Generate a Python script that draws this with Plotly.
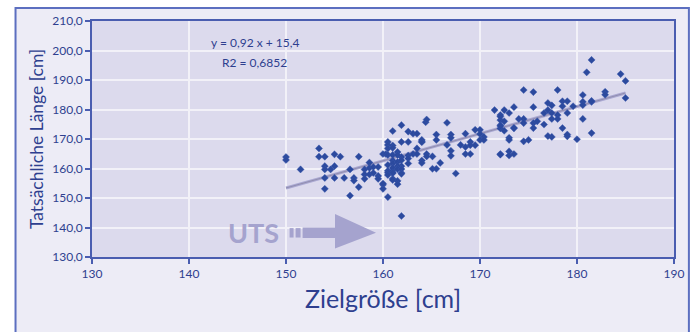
import plotly.graph_objects as go

# Zielgröße (target height) [cm]
ziel = [150.0, 150.0, 151.5, 153.4, 153.4, 154.0, 155.0, 155.6, 157.5, 154.0,
        154.0, 154.6, 155.0, 154.0, 155.0, 156.0, 157.0, 157.0, 154.0, 156.6,
        157.5, 156.6, 158.6, 158.1, 158.6, 159.0, 159.5, 158.1, 158.6, 159.0,
        158.1, 159.5, 159.5, 160.0, 160.0, 160.5, 160.5, 161.0, 161.0, 161.0,
        161.5, 160.0, 160.3, 160.5, 160.5, 160.5, 161.0, 161.0, 161.0, 161.9,
        162.6, 163.1, 163.5, 161.9, 162.6, 161.0, 161.0, 161.5, 161.9, 161.9,
        162.6, 162.6, 163.1, 163.5, 163.5, 161.9, 162.6, 161.5, 161.9, 164.0,
        164.0, 164.4, 161.9, 160.5, 161.0, 161.5, 161.5, 160.5, 161.0, 160.5,
        161.0, 160.5, 161.5, 161.9, 161.9, 161.0, 161.5, 160.0, 164.5, 166.6,
        164.0, 164.0, 164.5, 164.5, 165.1, 164.0, 165.1, 165.5, 165.5, 165.5,
        165.9, 167.0, 167.0, 166.6, 167.0, 167.0, 167.5, 168.0, 168.5, 168.5,
        168.5, 169.0, 169.0, 169.0, 169.5, 169.5, 170.0, 170.0, 170.4, 170.0,
        170.4, 171.5, 172.1, 172.1, 172.1, 172.1, 172.5, 172.5, 173.0, 172.5,
        172.1, 173.0, 173.0, 173.5, 173.5, 173.5, 173.0, 174.5, 175.5, 178.0,
        181.0, 181.5, 172.1, 172.1, 174.0, 174.5, 174.5, 173.5, 175.5, 175.5,
        175.5, 175.9, 176.6, 176.6, 177.0, 177.4, 177.0, 177.4, 177.4, 178.0,
        178.0, 178.5, 179.0, 178.5, 179.0, 179.6, 178.5, 179.0, 180.0, 177.4,
        180.6, 180.6, 180.6, 181.5, 180.6, 181.5, 173.0, 174.5, 175.0, 172.1,
        184.5, 185.0, 185.0, 182.9, 182.9, 181.5, 179.0, 177.0]

# Tatsächliche Länge (actual height) [cm]
laenge = [163.9, 162.9, 159.7, 166.8, 164.0, 164.0, 164.8, 164.0, 164.0, 160.8,
          159.7, 159.7, 160.8, 156.8, 156.8, 156.8, 156.8, 155.9, 153.1, 150.8,
          153.7, 159.7, 162.0, 159.7, 160.2, 160.5, 160.5, 158.0, 158.0, 158.5,
          156.5, 157.5, 156.5, 154.5, 153.1, 150.3, 159.2, 159.2, 158.4, 156.5,
          155.8, 164.9, 164.9, 169.0, 168.0, 166.8, 167.8, 167.0, 172.7, 174.7,
          172.5, 171.8, 171.8, 169.0, 169.0, 162.7, 161.7, 162.2, 163.9, 162.8,
          164.4, 163.4, 164.9, 166.8, 164.9, 160.8, 161.7, 160.8, 158.5, 169.2,
          162.7, 175.7, 143.9, 164.6, 164.6, 165.6, 164.6, 161.2, 160.2, 158.6,
          158.6, 157.8, 159.8, 159.8, 158.2, 156.1, 154.7, 154.9, 176.6, 175.5,
          169.7, 168.9, 164.9, 164.1, 164.1, 161.9, 159.9, 159.9, 171.5, 169.7,
          161.9, 171.5, 170.4, 168.0, 166.0, 164.3, 158.3, 168.0, 167.3, 171.8,
          164.9, 164.9, 169.0, 167.9, 167.9, 173.1, 173.1, 171.7, 170.7, 169.7,
          169.7, 179.8, 178.1, 176.4, 174.7, 173.6, 176.0, 179.8, 178.8, 172.8,
          164.9, 165.8, 164.4, 164.9, 180.8, 173.7, 170.4, 186.6, 185.9, 186.6,
          192.6, 196.8, 177.6, 174.4, 176.8, 176.8, 175.4, 173.7, 180.8, 175.4,
          173.7, 176.0, 178.8, 174.9, 182.2, 181.4, 179.8, 178.8, 176.8, 178.1,
          176.8, 182.8, 182.8, 181.1, 178.8, 181.1, 173.7, 170.9, 169.9, 170.7,
          184.9, 182.6, 181.5, 182.6, 176.8, 172.0, 169.7, 169.2, 169.7, 164.7,
          192.0, 189.7, 183.9, 186.0, 185.0, 182.9, 171.5, 171.0]

# Linear trend (as printed in the chart)
slope = 0.92
intercept = 15.4
trend_x = [150.0, 185.0]
trend_y = [slope * v + intercept for v in trend_x]

x_ticks = [130, 140, 150, 160, 170, 180, 190]
y_ticks = [130, 140, 150, 160, 170, 180, 190, 200, 210]

TXT = "#2E3F8F"
AX = "#4A5DB0"
FONT = "Lato, 'Open Sans', sans-serif"

fig = go.Figure()

fig.add_trace(go.Scatter(
    x=trend_x, y=trend_y, mode="lines",
    line=dict(color="#AAA8D2", width=3), hoverinfo="skip", showlegend=False))
fig.add_trace(go.Scatter(
    x=trend_x, y=trend_y, mode="lines",
    line=dict(color="#85839F", width=0.7), hoverinfo="skip", showlegend=False))

fig.add_trace(go.Scatter(
    x=ziel, y=laenge, mode="markers",
    marker=dict(symbol="diamond", size=5.5, color="#2C4A9E",
                line=dict(color="#3A58AE", width=0.4)),
    showlegend=False))

shapes = [
    # outer frame
    dict(type="rect", xref="paper", yref="paper", x0=-0.1314, x1=1.0256,
         y0=-0.40, y1=1.0551, line=dict(color="#5C6FC0", width=2),
         fillcolor="#EDECF6", layer="below"),
    # plot area
    dict(type="rect", xref="paper", yref="paper", x0=0, x1=1, y0=0, y1=1,
         line=dict(width=0), fillcolor="#DCDAED", layer="below"),
    # UTS arrow pieces (decoration)
    dict(type="rect", xref="x", yref="y", x0=150.37, x1=150.78, y0=136.6, y1=139.8,
         line=dict(width=0), fillcolor="#A5A3CE"),
    dict(type="rect", xref="x", yref="y", x0=150.99, x1=151.50, y0=136.6, y1=139.8,
         line=dict(width=0), fillcolor="#A5A3CE"),
    dict(type="rect", xref="x", yref="y", x0=151.71, x1=155.1, y0=136.4, y1=140.0,
         line=dict(width=0), fillcolor="#A5A3CE"),
    dict(type="path", xref="x", yref="y",
         path="M 155.05 144.6 L 159.28 138.2 L 155.05 132.9 Z",
         line=dict(width=0), fillcolor="#A5A3CE"),
]

fig.update_layout(
    width=696, height=332,
    margin=dict(l=92, r=18, t=21, b=75),
    paper_bgcolor="white",
    plot_bgcolor="rgba(0,0,0,0)",
    separators=",.",
    font=dict(family=FONT, color=TXT, size=12),
    shapes=shapes,
    xaxis=dict(
        range=[130, 190], tickvals=x_ticks, ticktext=[str(v) for v in x_ticks],
        showgrid=True, gridcolor="#F2F1F8", gridwidth=1.5,
        showline=True, linecolor=AX, linewidth=1.5, mirror=True,
        ticks="outside", ticklen=5, tickcolor=AX, tickwidth=1.5,
        tickfont=dict(size=12, color=TXT), zeroline=False,
        title=dict(text="Zielgröße [cm]", font=dict(size=25, color=TXT), standoff=10),
    ),
    yaxis=dict(
        range=[130, 210], tickvals=y_ticks, tickformat=".1f",
        showgrid=True, gridcolor="#F2F1F8", gridwidth=1.5,
        showline=True, linecolor=AX, linewidth=1.5, mirror=True,
        ticks="outside", ticklen=5, tickcolor=AX, tickwidth=1.5,
        tickfont=dict(size=12, color=TXT), zeroline=False,
        title=dict(text="Tatsächliche Länge [cm]", font=dict(size=17.5, color=TXT), standoff=4),
    ),
    annotations=[
        dict(text="y = 0,92 x + 15,4", x=146.8, y=202.6, xref="x", yref="y",
             showarrow=False, font=dict(size=12, color=TXT)),
        dict(text="R2 = 0,6852", x=146.8, y=195.8, xref="x", yref="y",
             showarrow=False, font=dict(size=12, color=TXT)),
        dict(text="<b>UTS</b>", x=146.7, y=138.2, xref="x", yref="y",
             showarrow=False, font=dict(size=27, color="#A5A3CE")),
    ],
)

fig.write_html("out.html")
